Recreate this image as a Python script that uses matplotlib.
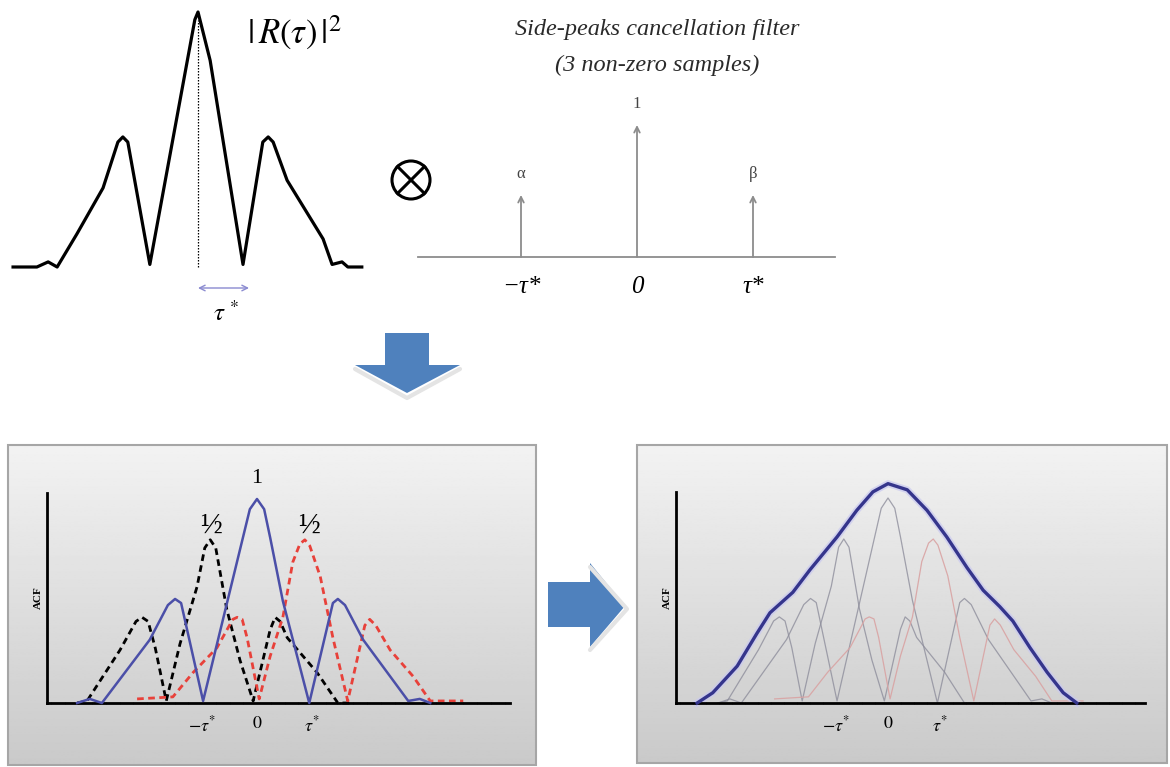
import numpy as np
import matplotlib.pyplot as plt
from matplotlib.patches import Polygon, Rectangle, Circle
from matplotlib.ticker import MultipleLocator

plt.rcParams['font.family'] = ['Liberation Serif', 'DejaVu Serif']
plt.rcParams['mathtext.fontset'] = 'stix'

# --- |R(tau)|^2 (top left), tau in units of tau*, normalised power ---
top_tau = [-4.11, -3.58, -3.33, -3.13, -2.69, -2.11, -1.78, -1.67, -1.56, -1.07,
           -0.07, 0.0, 0.27, 1.0, 1.44, 1.56, 1.67, 1.98, 2.78, 2.98, 3.2, 3.33, 3.64]
top_acf = [0, 0, 0.02, 0, 0.13, 0.31, 0.49, 0.51, 0.49, 0.01,
           0.97, 1.0, 0.81, 0.01, 0.49, 0.51, 0.49, 0.34, 0.11, 0.01, 0.02, 0, 0]

# --- side-peaks cancellation filter ---
filt_tau = [-1, 0, 1]
filt_amp = [0.47, 1.0, 0.47]
filt_lab = ['α', '1', 'β']
filt_ticks = ['−τ*', '0', 'τ*']

# --- bottom left: the three shifted/weighted ACFs ---
blue_tau = [-3.27, -3.04, -2.82, -1.95, -1.62, -1.49, -1.38, -0.98, -0.13, 0.0,
            0.13, 0.24, 0.47, 0.95, 1.38, 1.47, 1.6, 1.93, 2.75, 2.96, 3.15]
blue_acf = [0, 0.02, 0, 0.31, 0.48, 0.51, 0.49, 0.01, 0.95, 1.0,
            0.95, 0.81, 0.5, 0, 0.49, 0.51, 0.48, 0.31, 0.01, 0.02, 0]

black_tau = [-3.27, -3.09, -2.49, -2.2, -2.09, -1.98, -1.85, -1.65, -1.4, -1.09, -0.95, -0.85,
             -0.75, -0.55, -0.31, -0.07, 0.24, 0.33, 0.42, 0.55, 1.09, 1.47, 1.69]
black_acf = [0, 0.01, 0.26, 0.4, 0.42, 0.4, 0.27, 0.01, 0.29, 0.57, 0.76, 0.8,
             0.76, 0.46, 0.21, 0.01, 0.36, 0.42, 0.4, 0.32, 0.15, 0, 0]

red_tau = [-2.18, -1.53, -1.16, -0.73, -0.44, -0.36, -0.27, -0.18, 0.04, 0.24, 0.47, 0.65, 0.78,
           0.87, 0.96, 1.15, 1.38, 1.65, 1.96, 2.05, 2.16, 2.42, 2.84, 3.15, 3.75]
red_acf = [0.02, 0.03, 0.15, 0.27, 0.41, 0.42, 0.41, 0.32, 0.02, 0.23, 0.42, 0.69, 0.78,
           0.8, 0.77, 0.62, 0.32, 0.01, 0.38, 0.41, 0.38, 0.26, 0.13, 0.01, 0.01]

# --- bottom right: filtered (side-peak free) envelope ---
env_tau = [-3.67, -3.37, -2.9, -2.52, -2.27, -1.83, -1.5, -0.98, -0.6, -0.29, 0.0,
           0.37, 0.75, 1.13, 1.52, 1.83, 2.15, 2.4, 2.73, 3.06, 3.37, 3.63]
env_acf = [0.0, 0.05, 0.18, 0.34, 0.44, 0.54, 0.65, 0.81, 0.94, 1.03, 1.07,
           1.04, 0.94, 0.81, 0.66, 0.55, 0.47, 0.4, 0.27, 0.15, 0.05, 0.0]

acf_ticks = [r'$-\tau^{*}$', r'$0$', r'$\tau^{*}$']

W, H = 1170, 767
fig = plt.figure(figsize=(W / 100, H / 100), dpi=100)

# background layer in pixel coordinates
bg = fig.add_axes([0, 0, 1, 1], zorder=0)
bg.axis('off')


def px_axes(x0, x1, y0, y1, cx, cy, sx, sy, z=2):
    ax = fig.add_axes([x0 / W, 1 - y1 / H, (x1 - x0) / W, (y1 - y0) / H], zorder=z)
    ax.set_xlim((x0 - cx) / sx, (x1 - cx) / sx)
    ax.set_ylim((cy - y1) / sy, (cy - y0) / sy)
    ax.patch.set_visible(False)
    return ax


# grey gradient boxes
grad = np.linspace(0.95, 0.79, 200)[:, None]
for (x0, x1, y0, y1) in [(8, 536, 445, 765), (637, 1167, 445, 763)]:
    bg.imshow(grad, cmap='gray', vmin=0, vmax=1, extent=(x0, x1, y1, y0),
              aspect='auto', origin='upper')
    bg.add_patch(Rectangle((x0, y0), x1 - x0, y1 - y0, fill=False,
                           ec='#a6a6a6', lw=1.5))

# blue block arrows
arrow_c = '#4f81bd'
bg.plot([355, 407, 460], [369, 398, 369], color='#e4e4e4', lw=3, solid_capstyle='round')
bg.add_patch(Polygon([(385, 333), (429, 333), (429, 365), (460, 365), (407, 393),
                      (355, 365), (385, 365)], closed=True, fc=arrow_c, ec='none'))
bg.plot([590, 627, 590], [567, 609, 650], color='#e4e4e4', lw=3, solid_capstyle='round')
bg.add_patch(Polygon([(548, 582), (590, 582), (590, 563), (625, 606), (590, 647),
                      (590, 627), (548, 627)], closed=True, fc=arrow_c, ec='none'))

# convolution symbol
bg.add_patch(Circle((411, 180), 19, fill=False, ec='black', lw=2.2))
d = 19 / np.sqrt(2)
bg.plot([411 - d, 411 + d], [180 - d, 180 + d], color='black', lw=2.2)
bg.plot([411 - d, 411 + d], [180 + d, 180 - d], color='black', lw=2.2)

# tau* double arrow
bg.annotate('', xy=(249, 288), xytext=(198, 288),
            arrowprops=dict(arrowstyle='<->', color='#8a8ad0', lw=1.0,
                            shrinkA=0, shrinkB=0))
bg.text(226, 313, r'$\tau\ {}^{*}$', fontsize=18, ha='center', va='center')
bg.text(294, 33, r'$|\,R(\tau)\,|^{2}$', fontsize=25, ha='center', va='center')
bg.text(657, 30, 'Side-peaks cancellation filter', fontsize=17.5, style='italic',
        ha='center', va='center', color='#2a2a2a')
bg.text(657, 65, '(3 non-zero samples)', fontsize=17.5, style='italic',
        ha='center', va='center', color='#2a2a2a')

bg.set_xlim(0, W)
bg.set_ylim(H, 0)

# --- top left: |R(tau)|^2 ---
ax1 = px_axes(5, 372, 5, 272, 198, 267, 45, 255)
ax1.axis('off')
ax1.plot(top_tau, top_acf, color='black', lw=2.3, solid_joinstyle='round', clip_on=False)
ax1.plot([0, 0], [0, 0.97], color='black', lw=0.9, ls=(0, (1.2, 1.2)))

# --- top right: filter ---
ax2 = px_axes(418, 835, 90, 257, 637, 257, 116, 132)
for s in ['left', 'right', 'top']:
    ax2.spines[s].set_visible(False)
ax2.spines['bottom'].set_color('#8c8c8c')
ax2.spines['bottom'].set_linewidth(1.3)
ax2.set_yticks([])
ax2.set_xticks(filt_tau, filt_ticks, fontsize=18, style='italic')
ax2.tick_params(axis='x', length=0, pad=14)
for t, a, lab in zip(filt_tau, filt_amp, filt_lab):
    ax2.annotate('', xy=(t, a), xytext=(t, 0),
                 arrowprops=dict(arrowstyle='->', color='#8c8c8c', lw=1.3,
                                 shrinkA=0, shrinkB=0))
    ax2.text(t, a + 0.16, lab, fontsize=12, ha='center', va='center', color='#444444')


def acf_frame(ax):
    for s in ['right', 'top']:
        ax.spines[s].set_visible(False)
    for s in ['left', 'bottom']:
        ax.spines[s].set_linewidth(2.0)
        ax.spines[s].set_color('black')
    ax.set_yticks([])
    ax.set_xticks([-1, 0, 1], acf_ticks, fontsize=13)
    ax.xaxis.set_minor_locator(MultipleLocator(0.25))
    ax.tick_params(axis='x', which='major', length=0, pad=9)
    ax.tick_params(axis='x', which='minor', length=2, direction='inout',
                   color='#666666', width=0.7)
    ax.set_ylabel('ACF', fontsize=8, fontweight='bold', labelpad=3)


# --- bottom left ---
ax3 = px_axes(47, 510, 493, 703, 257, 703, 55, 204)
acf_frame(ax3)
ax3.plot(blue_tau, blue_acf, color='#4b4fa8', lw=1.8, clip_on=False, zorder=3)
ax3.plot(black_tau, black_acf, color='black', lw=2.0, ls=(0, (2.4, 1.6)), clip_on=False)
ax3.plot(red_tau, red_acf, color='#e8413a', lw=2.0, ls=(0, (2.4, 1.6)), clip_on=False)
ax3.text(0, 1.1, '1', fontsize=16, ha='center', va='center', clip_on=False)
ax3.text(-0.84, 0.87, '½', fontsize=21, ha='center', va='center', clip_on=False)
ax3.text(0.95, 0.87, '½', fontsize=21, ha='center', va='center', clip_on=False)

# --- bottom right ---
ax4 = px_axes(676, 1145, 492, 703, 888, 703, 52, 205)
acf_frame(ax4)
ax4.plot(blue_tau, blue_acf, color='#8e8e9c', lw=0.9, alpha=0.8, clip_on=False)
ax4.plot(black_tau, black_acf, color='#8e8e9c', lw=0.9, alpha=0.8, clip_on=False)
ax4.plot(red_tau, red_acf, color='#d9a3a3', lw=0.9, alpha=0.9, clip_on=False)
ax4.plot(env_tau, env_acf, color='#c9c9f0', lw=5, alpha=0.7, clip_on=False)
ax4.plot(env_tau, env_acf, color='#35358c', lw=2.4, clip_on=False, zorder=3)

fig.savefig('out.png', dpi=100)
